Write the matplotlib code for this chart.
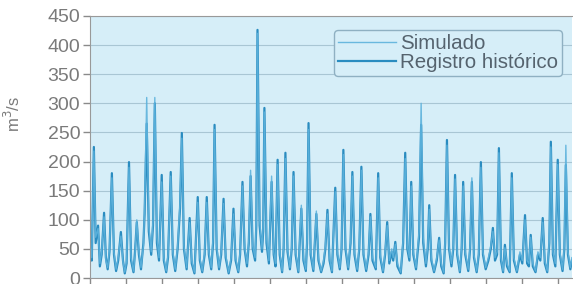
import matplotlib
matplotlib.use("Agg")
import matplotlib.pyplot as plt

# ---------- Data (months from start, flows in m3/s) ----------
months = [
    0.0, 0.6, 1.3, 1.9, 2.7, 3.3, 3.9, 4.7, 5.3, 5.9,
    6.5, 7.3, 8.0, 8.7, 9.4, 10.3, 11.0, 11.6, 12.2, 13.0,
    13.7, 14.5, 15.0, 15.6, 16.3, 17.0, 17.8, 18.2, 18.9, 19.6,
    20.4, 21.0, 21.6, 22.3, 23.0, 23.9, 24.6, 25.4, 26.0, 26.9,
    27.6, 28.4, 29.2, 30.0, 30.6, 31.3, 32.2, 33.2, 33.9, 34.8,
    35.9, 36.6, 37.4, 38.2, 38.9, 39.6, 40.4, 41.0, 41.5, 42.2,
    43.0, 43.7, 44.5, 45.2, 46.2, 47.0, 47.8, 48.5, 49.4, 50.0,
    50.8, 51.5, 52.3, 52.9, 53.5, 54.2, 55.0, 55.4, 55.8, 56.5,
    57.3, 57.7, 58.1, 58.8, 59.6, 60.5, 61.2, 61.8, 62.5, 63.2,
    64.0, 64.5, 65.1, 65.8, 66.6, 67.2, 67.8, 68.5, 69.4, 70.4,
    71.1, 71.9, 72.3, 72.8, 73.5, 74.4, 75.4, 76.1, 77.0, 77.8,
    78.4, 79.1, 79.8, 80.6, 81.7, 82.4, 83.2, 83.8, 84.4, 85.1,
    86.0, 86.8, 87.4, 88.1, 89.0, 89.7, 90.4, 91.1, 92.0, 92.8,
    93.4, 94.1, 95.2, 96.0, 96.7, 97.6, 98.3, 99.0, 99.7, 100.5,
    101.0, 101.7, 102.4, 103.5, 104.3, 105.0, 105.7, 106.4, 107.0, 107.7,
    108.6, 109.6, 110.3, 111.0, 111.9, 112.5, 113.0, 113.7, 114.6, 115.5,
    116.3, 117.0, 117.8, 118.3, 118.9, 119.6, 120.4, 121.0, 121.6, 122.3,
    123.2, 123.8, 124.3, 125.0, 126.0, 126.6, 127.2, 127.9, 128.8, 129.5,
    130.2, 130.9, 131.8, 132.7, 133.5, 134.2, 134.9, 135.6, 136.2, 136.9,
    137.6, 138.2, 138.9, 139.8, 140.5, 141.2, 142.2, 143.2, 144.0, 144.9,
    145.6, 146.2, 146.8, 147.5, 148.4, 149.2, 150.0, 150.8, 151.5, 152.3,
    153.0, 153.5, 154.2, 155.0, 155.8, 156.5, 157.4, 158.0, 158.5, 159.2,
    160.0, 160.5,
]

historico = [
    60, 30, 225, 60, 90, 20, 40, 112, 35, 15,
    45, 180, 40, 12, 30, 79, 30, 8, 25, 199,
    30, 10, 45, 96, 40, 15, 60, 110, 265, 80,
    40, 90, 300, 60, 30, 177, 30, 10, 35, 182,
    40, 12, 50, 120, 249, 50, 15, 103, 25, 8,
    139, 30, 10, 40, 139, 40, 15, 60, 263, 50,
    15, 40, 136, 35, 8, 30, 119, 30, 10, 40,
    165, 50, 20, 60, 175, 50, 30, 90, 426, 90,
    45, 80, 292, 60, 25, 165, 40, 20, 203, 40,
    10, 50, 215, 45, 15, 50, 182, 40, 10, 119,
    30, 12, 60, 266, 40, 12, 110, 30, 10, 25,
    50, 117, 30, 10, 155, 40, 15, 50, 220, 50,
    15, 60, 182, 40, 12, 50, 191, 40, 12, 40,
    110, 30, 15, 180, 35, 10, 40, 96, 25, 45,
    30, 62, 20, 8, 60, 215, 50, 30, 165, 40,
    15, 70, 263, 60, 20, 50, 125, 30, 10, 30,
    69, 20, 8, 60, 237, 50, 20, 50, 177, 40,
    10, 50, 165, 40, 12, 50, 165, 35, 10, 40,
    199, 40, 15, 30, 50, 86, 30, 40, 223, 30,
    10, 57, 20, 10, 180, 30, 10, 40, 25, 108,
    25, 20, 74, 20, 10, 40, 30, 103, 25, 10,
    60, 234, 40, 20, 203, 40, 12, 50, 194, 40,
    15, 30,
]

simulado = [
    55, 35, 218, 70, 85, 25, 45, 105, 30, 18,
    50, 172, 45, 15, 35, 72, 28, 10, 30, 190,
    35, 12, 40, 100, 45, 18, 55, 120, 310, 90,
    45, 100, 310, 70, 35, 165, 35, 12, 40, 175,
    45, 15, 55, 130, 240, 55, 18, 95, 30, 10,
    130, 35, 12, 45, 130, 45, 18, 70, 255, 55,
    18, 45, 128, 40, 10, 35, 110, 35, 12, 45,
    158, 55, 25, 65, 185, 55, 35, 100, 420, 100,
    50, 90, 285, 70, 30, 175, 45, 25, 195, 45,
    12, 55, 205, 50, 18, 55, 175, 45, 12, 125,
    35, 15, 65, 255, 45, 15, 115, 35, 12, 30,
    55, 110, 35, 12, 148, 45, 18, 55, 212, 55,
    18, 65, 175, 45, 15, 55, 185, 45, 15, 45,
    105, 35, 18, 172, 40, 12, 45, 90, 30, 50,
    35, 58, 25, 10, 65, 205, 55, 35, 158, 45,
    18, 80, 300, 70, 25, 55, 118, 35, 12, 35,
    65, 25, 10, 65, 228, 55, 25, 55, 170, 45,
    12, 55, 158, 45, 15, 55, 172, 40, 12, 45,
    190, 45, 18, 35, 55, 80, 35, 45, 215, 35,
    12, 52, 25, 12, 172, 35, 12, 45, 30, 100,
    30, 25, 70, 25, 12, 45, 35, 96, 30, 12,
    65, 225, 45, 25, 195, 45, 15, 55, 228, 45,
    18, 35,
]

y_ticks = [0, 50, 100, 150, 200, 250, 300, 350, 400, 450]
x_ticks = list(range(0, 161, 12))

# ---------- Style ----------
plt.rcParams["font.family"] = ["Liberation Sans", "DejaVu Sans"]
BG = "#d6eef8"
GRID = "#a9c6d4"
TXT = "#7a7a7a"

fig = plt.figure(figsize=(5.73, 2.84), dpi=100)
ax = fig.add_axes([0.157, 0.021, 0.841, 0.923])
ax.set_facecolor(BG)

ax.plot(months, historico, color="#2a8cc0", linewidth=1.6, label="Registro histórico")
ax.plot(months, simulado, color="#5db2dc", linewidth=1.0, alpha=0.9, label="Simulado")

ax.set_xlim(0, 160.5)
ax.set_ylim(0, 450)
ax.set_yticks(y_ticks)
ax.set_xticks(x_ticks)
ax.set_xticklabels([])
ax.yaxis.grid(True, color=GRID, linewidth=0.8)
ax.set_axisbelow(True)

ax.tick_params(axis="y", colors="#8a8a8a", labelcolor=TXT, labelsize=14,
               length=5, width=1, pad=2)
ax.tick_params(axis="x", colors="#8a8a8a", length=4, width=1)
for side in ["left", "bottom", "top"]:
    ax.spines[side].set_color("#999999")
ax.spines["right"].set_visible(False)

fig.text(0.022, 0.6, "m$^3$/s", rotation=90, ha="center", va="center",
         fontsize=12, color=TXT)

handles, labels = ax.get_legend_handles_labels()
leg = ax.legend(handles[::-1], labels[::-1], loc="upper right",
                bbox_to_anchor=(0.981, 0.894), bbox_transform=fig.transFigure,
                borderaxespad=0, fontsize=14.8, handlelength=2.8,
                handletextpad=0.2, labelspacing=0.0, fancybox=True,
                framealpha=1, facecolor=BG, edgecolor="#8fb0c2",
                borderpad=0.2)
for t in leg.get_texts():
    t.set_color("#55636e")

fig.savefig("out.png", dpi=100)
